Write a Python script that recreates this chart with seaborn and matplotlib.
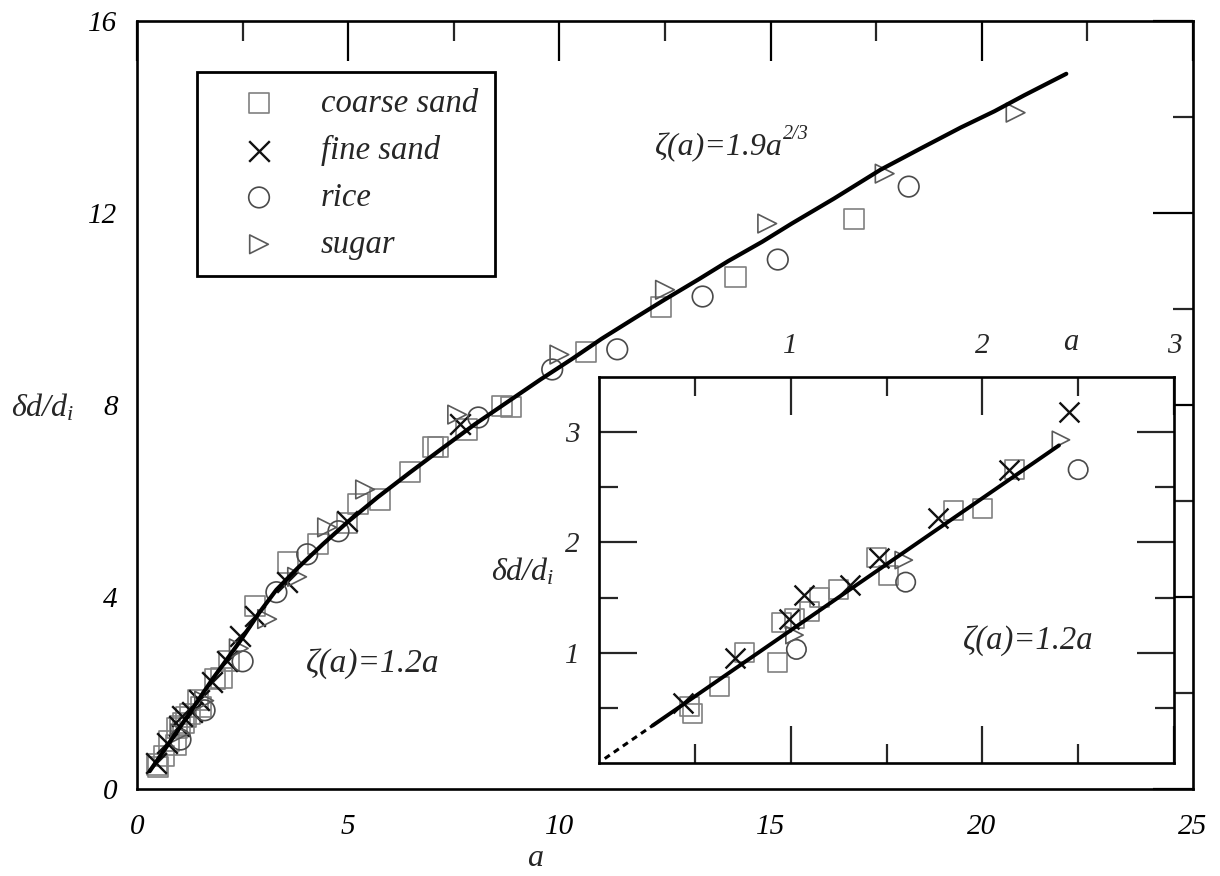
import matplotlib
matplotlib.use('Agg')
import matplotlib.pyplot as plt
import matplotlib.transforms as mtransforms
import seaborn as sns

sns.set_style('white')
plt.rcParams['font.family'] = ['Liberation Serif', 'DejaVu Serif']
plt.rcParams['font.style'] = 'italic'
plt.rcParams['mathtext.fontset'] = 'custom'
plt.rcParams['mathtext.rm'] = 'Liberation Serif'
plt.rcParams['mathtext.it'] = 'Liberation Serif:italic'
plt.rcParams['mathtext.default'] = 'it'

# ---------------- data ----------------
series_names = ['coarse sand', 'fine sand', 'rice', 'sugar']

coarse_a = [0.47, 0.49, 0.63, 0.76, 0.93, 0.95, 1.02, 1.10, 1.15, 1.25, 1.45, 1.51, 1.85, 2.00, 2.17,
            2.80, 3.58, 4.29, 4.97, 5.24, 5.76, 6.47, 7.00, 7.12, 7.80, 8.65, 8.85, 10.62, 12.40, 14.17, 16.97]
coarse_y = [0.51, 0.45, 0.69, 1.00, 0.91, 1.27, 1.31, 1.37, 1.50, 1.57, 1.86, 1.70, 2.29, 2.31, 2.66,
            3.81, 4.72, 5.10, 5.55, 5.93, 6.03, 6.60, 7.12, 7.12, 7.49, 7.98, 7.95, 9.11, 10.05, 10.67, 11.88]

fine_a = [0.44, 0.71, 0.99, 1.07, 1.31, 1.46, 1.77, 2.14, 2.45, 2.80, 3.55, 4.97, 7.65]
fine_y = [0.54, 0.95, 1.31, 1.52, 1.61, 1.86, 2.22, 2.66, 3.18, 3.60, 4.31, 5.58, 7.60]

rice_a = [1.03, 1.60, 2.50, 3.30, 4.03, 4.77, 8.08, 9.83, 11.37, 13.39, 15.17, 18.27]
rice_y = [1.03, 1.64, 2.66, 4.10, 4.89, 5.37, 7.74, 8.74, 9.16, 10.26, 11.03, 12.55]

sugar_a = [1.02, 1.59, 2.41, 3.08, 3.79, 4.50, 5.40, 7.58, 10.00, 12.50, 14.92, 17.70, 20.80]
sugar_y = [1.16, 1.84, 2.93, 3.54, 4.42, 5.45, 6.24, 7.80, 9.05, 10.40, 11.78, 12.82, 14.09]

# fitted curve in main panel
curve_a = [0.30, 0.95, 1.78, 2.44, 2.90, 3.30, 3.80, 4.40, 4.97, 5.70, 6.47, 7.20, 8.00, 8.80,
           9.55, 10.30, 11.00, 11.80, 12.50, 13.30, 14.00, 14.80, 15.50, 16.50, 17.60, 18.50,
           19.50, 20.30, 21.00, 22.00]
curve_y = [0.37, 1.20, 2.28, 3.08, 3.68, 4.15, 4.60, 5.10, 5.55, 6.08, 6.60, 7.08, 7.60, 8.08,
           8.53, 8.96, 9.38, 9.82, 10.20, 10.62, 11.00, 11.40, 11.78, 12.30, 12.90, 13.32,
           13.78, 14.12, 14.45, 14.90]

# inset straight line (solid part and dashed extrapolation)
inset_line_a = [0.28, 2.40]
inset_line_y = [0.34, 2.88]
inset_dash_a = [0.03, 0.28]
inset_dash_y = [0.04, 0.34]

main_xticks = [0, 5, 10, 15, 20, 25]
main_xminor = [2.5, 7.5, 12.5, 17.5, 22.5]
main_yticks = [0, 4, 8, 12, 16]
main_yminor = [2, 6, 10, 14]
inset_xticks = [1, 2, 3]
inset_xminor = [0.5, 1.5, 2.5]
inset_yticks = [1, 2, 3]
inset_yminor = [0.5, 1.5, 2.5]

data = {
    'coarse sand': (coarse_a, coarse_y),
    'fine sand': (fine_a, fine_y),
    'rice': (rice_a, rice_y),
    'sugar': (sugar_a, sugar_y),
}

styles = {
    'coarse sand': dict(marker='s', facecolors='none', edgecolor='#808080', color='#808080', linewidth=1.2),
    'fine sand': dict(marker='x', color='#111111', linewidth=1.7),
    'rice': dict(marker='o', facecolors='none', edgecolor='#4a4a4a', color='#4a4a4a', linewidth=1.2),
    'sugar': dict(marker='>', facecolors='none', edgecolor='#5a5a5a', color='#5a5a5a', linewidth=1.2),
}
sizes_main = {'coarse sand': 210, 'fine sand': 220, 'rice': 220, 'sugar': 180}
sizes_inset = {'coarse sand': 185, 'fine sand': 205, 'rice': 195, 'sugar': 155}

# ---------------- figure ----------------
W, H = 1220, 876
fig = plt.figure(figsize=(W / 100, H / 100), dpi=100)
fig.patch.set_facecolor('white')

L, R, T, B = 137, 1193, 21, 789
ax = fig.add_axes([L / W, 1 - B / H, (R - L) / W, (B - T) / H])
ax.set_facecolor('white')

for name in series_names:
    xa, ya = data[name]
    sns.scatterplot(x=xa, y=ya, s=sizes_main[name], ax=ax, label=name, zorder=2, **styles[name])

sns.lineplot(x=curve_a, y=curve_y, color='black', linewidth=3.0, sort=False, estimator=None,
             ax=ax, legend=False, zorder=3)

ax.set_xlim(0, 25)
ax.set_ylim(0, 16)
ax.set_xticks(main_xticks)
ax.set_xticks(main_xminor, minor=True)
ax.set_yticks(main_yticks)
ax.set_yticks(main_yminor, minor=True)
ax.tick_params(which='major', direction='in', length=29, width=1.6, top=True, right=True,
               labelsize=21, colors='black')
ax.tick_params(which='minor', direction='in', length=14.5, width=1.6, top=True, right=True)
ax.tick_params(axis='x', which='major', pad=18)
ax.tick_params(axis='y', which='major', pad=14)
for sp in ax.spines.values():
    sp.set_linewidth(1.9)
    sp.set_color('black')
ax.set_xlabel('')
ax.set_ylabel('')

fig.text(535 / W, 1 - 858 / H, 'a', fontsize=23, ha='center', va='center')
fig.text(43 / W, 1 - 408 / H, r'$\mathrm{\delta}d/d_i$', fontsize=23, ha='center', va='center')

t1 = ax.text(12.27, 13.2, 'ζ(a)=1.9a', fontsize=23, ha='left', va='baseline')
ax.annotate('2/3', xy=(1.0, 0.62), xycoords=t1, fontsize=14.5, ha='left', va='bottom')
ax.text(4.0, 2.62, 'ζ(a)=1.2a', fontsize=24, ha='left', va='center')

leg = ax.legend(loc='upper left', bbox_to_anchor=((197 - L) / (R - L), (B - 72) / (B - T)),
                frameon=True, fancybox=False, edgecolor='black', framealpha=1, fontsize=23.5,
                borderpad=0.5, labelspacing=0.5, handlelength=2.8, handletextpad=0.5,
                borderaxespad=0, scatterpoints=1)
leg.get_frame().set_linewidth(2.0)

# ---------------- inset ----------------
IL, IR, IT, IB = 599, 1174, 377, 763
axi = fig.add_axes([IL / W, 1 - IB / H, (IR - IL) / W, (IB - IT) / H], zorder=5)
axi.set_facecolor('white')

for name in series_names:
    xa, ya = data[name]
    sns.scatterplot(x=xa, y=ya, s=sizes_inset[name], ax=axi, legend=False, zorder=2, **styles[name])

sns.lineplot(x=inset_line_a, y=inset_line_y, color='black', linewidth=2.8, sort=False,
             estimator=None, ax=axi, legend=False, zorder=3)
sns.lineplot(x=inset_dash_a, y=inset_dash_y, color='black', linewidth=2.2, sort=False,
             estimator=None, ax=axi, legend=False, zorder=3, linestyle=(0, (2, 1.6)))

axi.set_xlim(0, 3)
axi.set_ylim(0, 3.5)
axi.set_xticks(inset_xticks)
axi.set_xticks(inset_xminor, minor=True)
axi.set_yticks(inset_yticks)
axi.set_yticks(inset_yminor, minor=True)
axi.tick_params(which='major', direction='in', length=27, width=1.6, top=True, bottom=True,
                left=True, right=True, labeltop=True, labelbottom=False, labelsize=21)
axi.tick_params(which='minor', direction='in', length=14, width=1.6, top=True, bottom=True,
                left=True, right=True)
axi.tick_params(axis='x', which='major', pad=13)
axi.tick_params(axis='y', which='major', pad=14)
for sp in axi.spines.values():
    sp.set_linewidth(1.9)
    sp.set_color('black')
axi.set_xlabel('')
axi.set_ylabel('')

trans = mtransforms.blended_transform_factory(axi.transData, axi.transAxes)
axi.text(2.46, (IB - 343) / (IB - IT), 'a', transform=trans, fontsize=22, ha='center', va='center',
         clip_on=False)
fig.text(523 / W, 1 - 572 / H, r'$\mathrm{\delta}d/d_i$', fontsize=23, ha='center', va='center',
         zorder=10)
axi.text(1.90, 1.11, 'ζ(a)=1.2a', fontsize=23.5, ha='left', va='center')

fig.savefig('out.png', dpi=100, facecolor='white')
